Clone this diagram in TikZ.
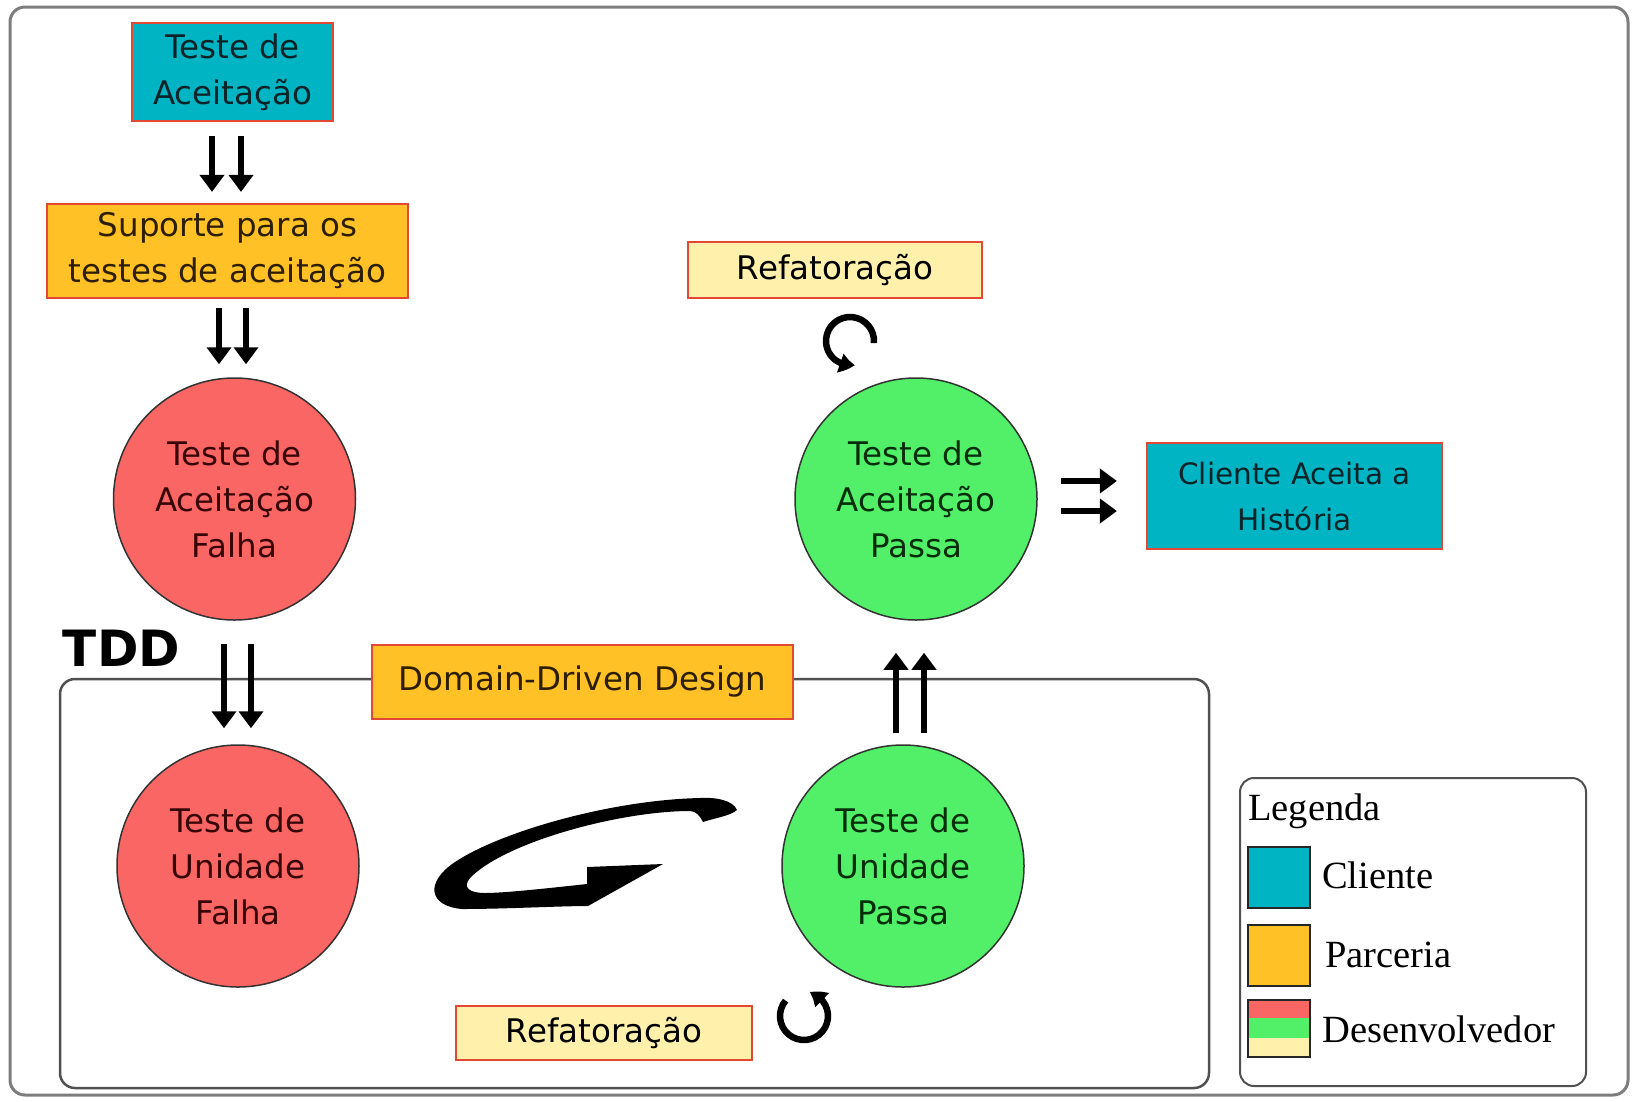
\documentclass[tikz,border=0pt]{standalone}
\usepackage{fontspec}
\setmainfont{DejaVu Sans}
\newfontfamily\legfont{Liberation Serif}
\usetikzlibrary{arrows.meta,bending}

\definecolor{tealfill}{RGB}{0,180,195}
\definecolor{orangefill}{RGB}{255,193,37}
\definecolor{redfill}{RGB}{250,102,100}
\definecolor{greenfill}{RGB}{82,240,104}
\definecolor{yellowfill}{RGB}{255,241,172}
\definecolor{boxedge}{RGB}{226,72,52}
\definecolor{frameline}{RGB}{125,125,125}
\definecolor{innerline}{RGB}{80,80,80}
\definecolor{txtteal}{RGB}{10,35,40}
\definecolor{txtorange}{RGB}{45,30,0}
\definecolor{txtred}{RGB}{55,5,5}
\definecolor{txtgreen}{RGB}{5,45,10}

\begin{document}
\begin{tikzpicture}[x=1pt,y=-1pt,
  every node/.style={align=center, inner sep=0pt, font=\fontsize{32.5}{46}\selectfont},
  tealbox/.style={draw=boxedge, line width=2.2pt, fill=tealfill, text=txtteal},
  orangebox/.style={draw=boxedge, line width=2.2pt, fill=orangefill, text=txtorange},
  yelbox/.style={draw=boxedge, line width=2.2pt, fill=yellowfill, text=black},
  redcirc/.style={circle, draw=black!80, line width=1.5pt, fill=redfill, text=txtred, minimum size=242pt},
  greencirc/.style={circle, draw=black!80, line width=1.5pt, fill=greenfill, text=txtgreen, minimum size=242pt},
  dblarr/.style={line width=5.5pt, -{Triangle[width=24pt,length=17pt]}},
  looparr/.style={line width=6.5pt, -{Triangle[width=19pt,length=15pt,bend]}},
  legtext/.style={anchor=base west, font=\legfont\fontsize{38.5}{42}\selectfont},
  legsq/.style={draw=black!85, line width=2pt, minimum width=62pt, minimum height=61pt}
]
\useasboundingbox (0,0) rectangle (1632,1101);

% frames
\draw[frameline, line width=3pt, rounded corners=15pt] (10,7) rectangle (1628,1095);
\draw[innerline, line width=2.5pt, rounded corners=15pt] (60,679) rectangle (1209,1088);
\draw[innerline, line width=2pt, rounded corners=14pt] (1240,778) rectangle (1586,1086);

% nodes
\node[tealbox, minimum width=201pt, minimum height=98pt] (ta) at (232.5,72) {Teste de\\Aceitação};
\node[orangebox, minimum width=361pt, minimum height=94pt] (sup) at (227.5,251) {Suporte para os\\testes de aceitação};
\node[redcirc] (caf) at (234.5,499) {Teste de\\Aceitação\\Falha};
\node[redcirc] (cuf) at (238,866) {Teste de\\Unidade\\Falha};
\node[greencirc] (cup) at (903,866) {Teste de\\Unidade\\Passa};
\node[greencirc] (cap) at (916,499) {Teste de\\Aceitação\\Passa};
\node[orangebox, minimum width=421pt, minimum height=74pt] (ddd) at (582.5,682) {Domain-Driven Design};
\node[yelbox, minimum width=294pt, minimum height=56pt] (ref1) at (835,270) {Refatoração};
\node[yelbox, minimum width=296pt, minimum height=54pt] (ref2) at (604,1033) {Refatoração};
\node[tealbox, minimum width=295pt, minimum height=106pt, font=\fontsize{29.5}{46}\selectfont] (cli) at (1294.5,496) {Cliente Aceita a\\História};
\node[font=\fontsize{50}{60}\selectfont\bfseries] (tdd) at (121.5,648.5) {TDD};

% double arrows
\foreach \dx in {-20.5,8.5}
  \draw[dblarr, shorten <=14pt, shorten >=11pt] ([xshift=\dx pt]ta.south) -- ([xshift=\dx pt]ta.south |- sup.north);
\foreach \dx in {-8.5,18.5}
  \draw[dblarr, shorten <=9pt, shorten >=13pt] ([xshift=\dx pt]sup.south) -- ([xshift=\dx pt]sup.south |- caf.north);
\foreach \dx in {-10.5,16.5}
  \draw[dblarr, shorten <=23pt, shorten >=16pt] ([xshift=\dx pt]caf.south) -- ([xshift=\dx pt]caf.south |- cuf.north);
\foreach \dx in {-7,21}
  \draw[dblarr, shorten <=11pt, shorten >=32pt] ([xshift=\dx pt]cup.north) -- ([xshift=\dx pt]cup.north |- cap.south);
\foreach \dy in {18,-12}
  \draw[dblarr, shorten <=23pt, shorten >=29pt] ([yshift=\dy pt]cap.east) -- ([yshift=\dy pt]cap.east -| cli.west);

% small loop arrows
\coordinate (loopA) at (850,341);
\coordinate (loopB) at (804,1016);
\draw[looparr] ([shift={(5:24)}]loopA) arc[start angle=5, end angle=-282, radius=24];
\draw[looparr] ([shift={(-140:24)}]loopB) arc[start angle=-140, end angle=-437, radius=24];

% central cycle swoosh
\fill[black] (737,810)
  .. controls (733,800) and (715,797) .. (700,798)
  .. controls (610,800) and (500,832) .. (455,862)
  .. controls (425,882) and (428,906) .. (462,909)
  .. controls (505,909) and (560,906) .. (588,906)
  -- (663,864) -- (587,867) -- (587,884)
  .. controls (550,888) and (505,893) .. (485,893)
  .. controls (470,893) and (462,888) .. (470,878)
  .. controls (505,842) and (620,811) .. (690,811)
  .. controls (696,811) and (700,816) .. (703,822)
  .. controls (715,818) and (730,816) .. cycle;

% legend
\node[legtext] (legt) at (1248,820) {Legenda};
\node[legsq, fill=tealfill] (sqc) at (1279,877.5) {};
\node[legtext] (legc) at (1322,888) {Cliente};
\node[legsq, fill=orangefill] (sqp) at (1279,955.5) {};
\node[legtext] (legp) at (1325,967) {Parceria};
\fill[redfill] (1248,1000) rectangle (1310,1018);
\fill[greenfill] (1248,1018) rectangle (1310,1038);
\fill[yellowfill] (1248,1038) rectangle (1310,1057);
\node[legsq, minimum height=57pt, fill=none] (sqd) at (1279,1028.5) {};
\node[legtext] (legd) at (1322,1042) {Desenvolvedor};
\end{tikzpicture}
\end{document}
